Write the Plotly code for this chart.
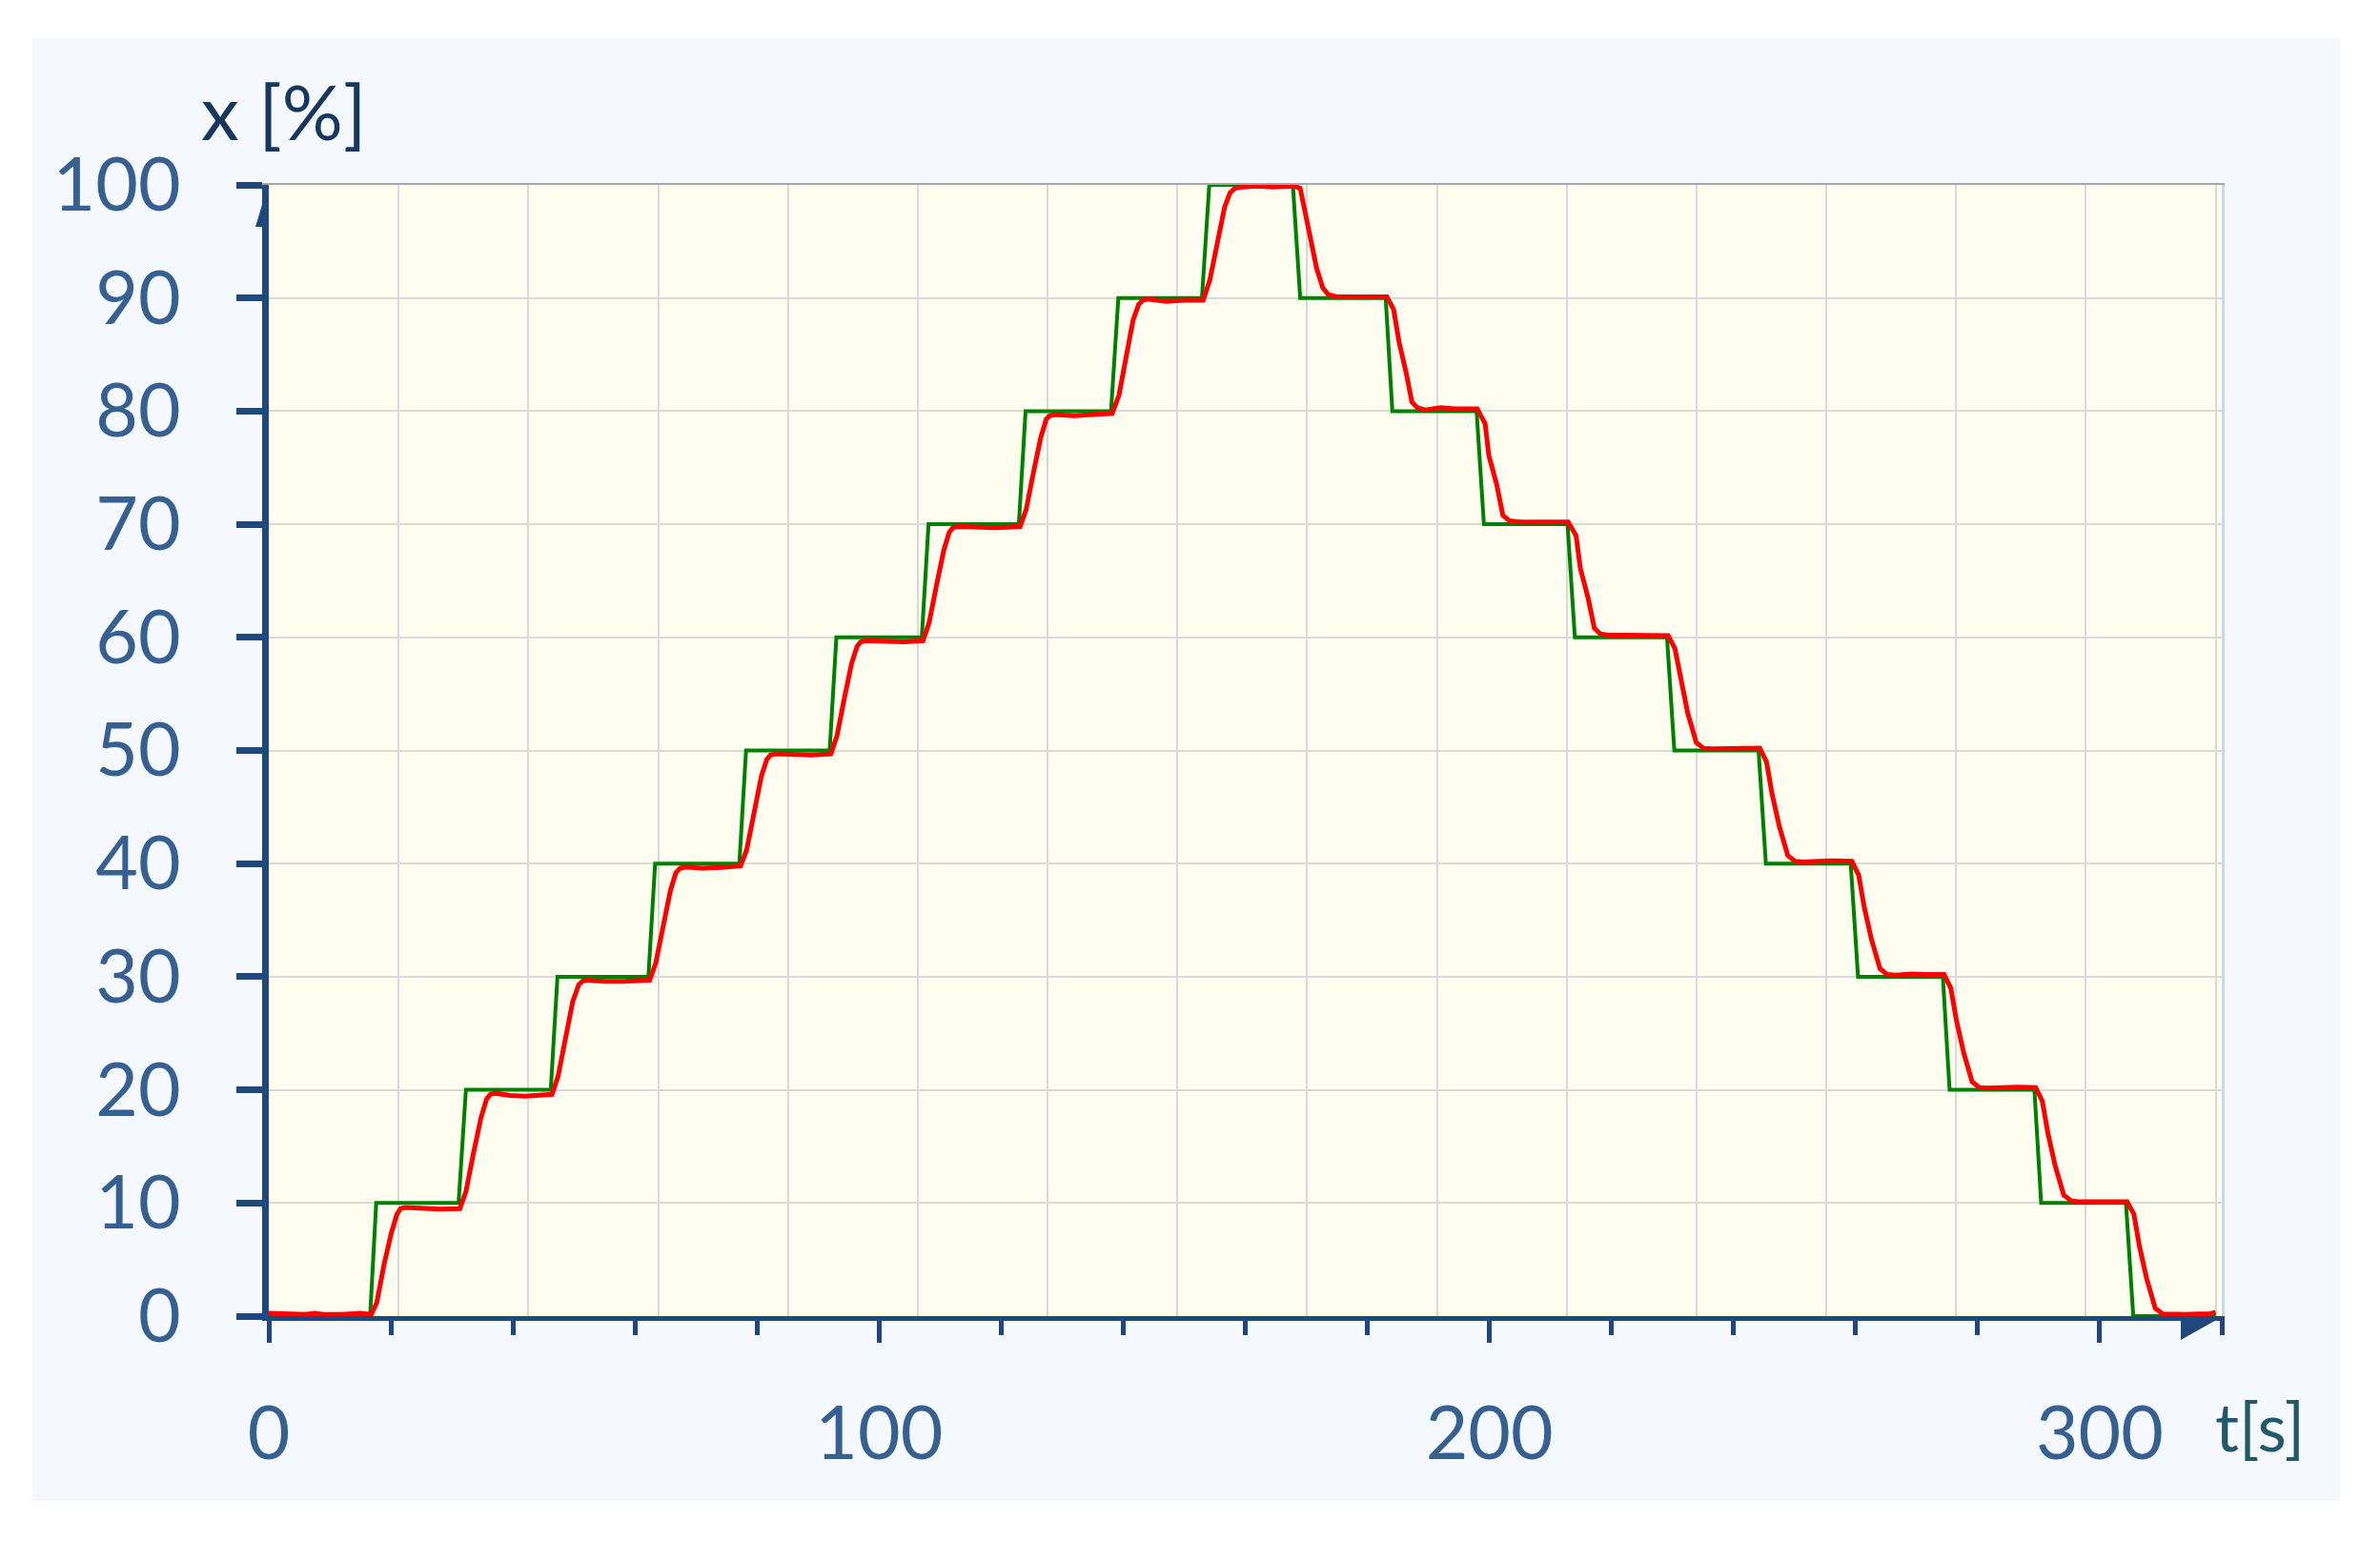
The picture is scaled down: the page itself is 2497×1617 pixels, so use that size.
import plotly.graph_objects as go

# --- data -------------------------------------------------------------------
# setpoint (green): time [s] and level [%]
setpoint_t = [0, 16.6, 17.6, 31.1, 32.3, 46.2, 47.3, 62.2, 63.3, 77.1, 78.2,
              91.9, 93.0, 107.0, 108.1, 122.9, 124.0, 138.0, 139.2, 152.9, 154.1,
              167.8, 169.0, 183.0, 184.1, 197.9, 199.1, 212.8, 214.0, 229.1, 230.3,
              244.1, 245.3, 259.2, 260.4, 274.3, 275.4, 289.3, 290.4, 304.3, 305.5,
              319.0]
setpoint_x = [0, 0, 10, 10, 20, 20, 30, 30, 40, 40, 50, 50, 60, 60, 70, 70, 80,
              80, 90, 90, 100, 100, 90, 90, 80, 80, 70, 70, 60, 60, 50, 50, 40, 40,
              30, 30, 20, 20, 10, 10, 0, 0]

# measured response (red)
response_t = [0, 2, 4, 6, 7.5, 9, 12, 14, 15, 16.8,
              17.7, 18.9, 20.1, 21.0, 21.6, 22.4, 25, 28, 31.3,
              32.3, 33.5, 34.8, 35.7, 36.3, 37.2, 39.5, 42, 44.5, 46.4,
              47.4, 48.6, 49.8, 50.8, 51.4, 52.3, 55, 58, 60.5, 62.4,
              63.4, 64.6, 65.8, 66.7, 67.4, 68.3, 71, 74, 77.3,
              78.3, 79.5, 80.7, 81.6, 82.2, 83.1, 86, 89, 92.1,
              93.1, 94.3, 95.5, 96.4, 97.0, 97.9, 101, 104, 107.2,
              108.2, 109.4, 110.6, 111.5, 112.1, 113.0, 116, 119, 123.1,
              124.1, 125.3, 126.5, 127.4, 128.0, 128.9, 132, 135, 138.2,
              139.3, 140.5, 141.6, 142.5, 143.2, 144.0, 147, 150, 153.1,
              154.2, 155.5, 156.6, 157.5, 158.3, 159.5, 162, 164.5, 168.0,
              169.0, 170.6, 171.7, 172.7, 173.6, 175, 178, 181, 183.2,
              184.3, 185.2, 186.4, 187.3, 188.2, 189.5, 192, 194.5, 198.0,
              199.3, 199.9, 201.2, 202.2, 203.3, 205, 208, 210.5, 212.9,
              214.2, 214.9, 216.2, 217.2, 218.2, 219.5, 222, 225, 229.3,
              230.4, 231.4, 232.5, 233.9, 235.1, 236.5, 239, 241.5, 244.3,
              245.4, 246.3, 247.5, 248.9, 250.1, 251.5, 254, 256, 259.4,
              260.5, 261.4, 262.6, 264.0, 265.2, 266.6, 269, 271.5, 274.5,
              275.6, 276.5, 277.7, 279.1, 280.3, 281.7, 284, 286.5, 289.5,
              290.6, 291.5, 292.7, 294.1, 295.3, 296.7, 299, 301.5, 304.5,
              305.6, 306.5, 307.7, 309.1, 310.3, 311.7, 314, 316, 318, 319]
response_x = [0.25, 0.2, 0.15, 0.15, 0.25, 0.15, 0.15, 0.2, 0.25, 0.15,
              1.2, 4.6, 7.4, 9.0, 9.5, 9.6, 9.5, 9.45, 9.5,
              11.0, 14.3, 17.6, 19.2, 19.6, 19.7, 19.5, 19.45, 19.55, 19.6,
              21.2, 24.6, 27.8, 29.3, 29.6, 29.7, 29.6, 29.6, 29.6, 29.7,
              31.2, 34.6, 37.6, 39.2, 39.6, 39.7, 39.6, 39.65, 39.8,
              41.2, 44.6, 47.7, 49.2, 49.6, 49.7, 49.6, 49.6, 49.7,
              51.3, 54.6, 57.7, 59.2, 59.6, 59.7, 59.6, 59.6, 59.7,
              61.3, 64.6, 67.7, 69.3, 69.7, 69.8, 69.7, 69.7, 69.8,
              71.3, 74.6, 77.7, 79.3, 79.6, 79.7, 79.6, 79.7, 79.8,
              81.4, 84.8, 88.0, 89.4, 89.8, 89.9, 89.7, 89.8, 89.8,
              91.6, 95.0, 98.0, 99.3, 99.7, 99.8, 99.9, 99.8, 99.9,
              99.7, 95.3, 92.6, 90.9, 90.3, 90.1, 90.1, 90.1, 90.1,
              89.0, 86.1, 83.3, 80.8, 80.3, 80.1, 80.3, 80.2, 80.2,
              78.9, 76.1, 73.5, 70.8, 70.3, 70.2, 70.2, 70.2, 70.2,
              69.0, 66.1, 63.4, 60.8, 60.3, 60.2, 60.2, 60.2, 60.15,
              59.0, 56.2, 53.3, 50.7, 50.2, 50.15, 50.2, 50.2, 50.2,
              49.0, 46.2, 43.3, 40.7, 40.2, 40.15, 40.2, 40.25, 40.2,
              39.0, 36.2, 33.3, 30.7, 30.2, 30.15, 30.25, 30.2, 30.2,
              29.0, 26.2, 23.3, 20.7, 20.2, 20.15, 20.2, 20.25, 20.2,
              19.0, 16.2, 13.3, 10.7, 10.2, 10.1, 10.1, 10.1, 10.1,
              9.0, 6.2, 3.3, 0.7, 0.2, 0.15, 0.15, 0.2, 0.2, 0.35]

x_major_ticks = [0, 100, 200, 300]
y_ticks = [0, 10, 20, 30, 40, 50, 60, 70, 80, 90, 100]

# --- styling ----------------------------------------------------------------
W, H = 2481, 1601
ML, MR, MT, MB = 274, 158, 186, 228
PW, PH = W - ML - MR, H - MT - MB

NAVY = "#1F497D"
LABEL_BLUE = "#376092"
FONT = "Lato, 'Open Sans', sans-serif"


def paper_x(px):
    return (px - ML) / PW


def paper_y(py):
    return (H - MB - py) / PH


fig = go.Figure()

fig.add_trace(go.Scatter(x=setpoint_t, y=setpoint_x, mode="lines",
                         line=dict(color="#008000", width=4),
                         hoverinfo="skip", showlegend=False))
fig.add_trace(go.Scatter(x=response_t, y=response_x, mode="lines",
                         line=dict(color="#FF0000", width=5),
                         hoverinfo="skip", showlegend=False))
# empty traces so the helper axes (grid / frame) get drawn
fig.add_trace(go.Scatter(x=[None], y=[None], xaxis="x2", yaxis="y",
                         showlegend=False, hoverinfo="skip"))
fig.add_trace(go.Scatter(x=[None], y=[None], xaxis="x", yaxis="y2",
                         showlegend=False, hoverinfo="skip"))

tick_font = dict(family=FONT, size=77, color=LABEL_BLUE)

fig.update_layout(
    width=W, height=H,
    margin=dict(l=ML, r=MR, t=MT, b=MB, pad=0),
    paper_bgcolor="#F5F9FD",
    plot_bgcolor="#FEFEF0",
    xaxis=dict(
        range=[0, 320], tickmode="array", tickvals=x_major_ticks,
        ticks="outside", ticklen=23, tickwidth=5, tickcolor=NAVY,
        minor=dict(dtick=20, tick0=0, ticks="outside", ticklen=15,
                   tickwidth=5, tickcolor=NAVY, showgrid=False),
        showline=True, linecolor=NAVY, linewidth=5,
        showgrid=False, zeroline=False,
        tickfont=tick_font, ticklabelstandoff=30,
    ),
    # helper axis: 15 equal vertical grid divisions + grey top frame
    xaxis2=dict(
        overlaying="x", side="top", range=[0, 320],
        tick0=0, dtick=319 / 15, ticks="", showticklabels=False,
        showgrid=True, gridcolor="#D9D9D9", gridwidth=2,
        showline=True, linecolor="#A6A6A6", linewidth=2,
        zeroline=False, layer="below traces",
    ),
    yaxis=dict(
        range=[0, 100], tickmode="array", tickvals=y_ticks,
        ticks="outside", ticklen=27, tickwidth=7, tickcolor=NAVY,
        showline=True, linecolor=NAVY, linewidth=7,
        showgrid=True, gridcolor="#D9D9D9", gridwidth=2, zeroline=False,
        tickfont=tick_font, ticklabelstandoff=43,
    ),
    yaxis2=dict(
        overlaying="y", side="right", range=[0, 100],
        ticks="", showticklabels=False, showgrid=False, zeroline=False,
        showline=True, linecolor="#C6D9F1", linewidth=3,
    ),
)

# axis titles
fig.add_annotation(text="x [%]", xref="paper", yref="paper",
                   x=paper_x(201), y=paper_y(108), xanchor="left", yanchor="middle",
                   showarrow=False, font=dict(family=FONT, size=80, color="#17375E"))
fig.add_annotation(text="t[s]", xref="paper", yref="paper",
                   x=paper_x(2363), y=paper_y(1488), xanchor="center", yanchor="middle",
                   showarrow=False, font=dict(family=FONT, size=70, color="#215968"))

# axis arrow heads (paper refs so they are not clipped to the plot area)
fig.add_shape(type="path", xref="paper", yref="paper", xsizemode="pixel", ysizemode="pixel",
              xanchor=1, yanchor=0, path="M -43,-5 L -43,-25 L -2,-2 Z",
              fillcolor=NAVY, line=dict(width=0))
fig.add_shape(type="path", xref="paper", yref="paper", xsizemode="pixel", ysizemode="pixel",
              xanchor=0, yanchor=1, path="M -1,-1 L -14,-44 L -1,-44 Z",
              fillcolor=NAVY, line=dict(width=0))

# white outer border around the light panel
white = dict(type="rect", xref="paper", yref="paper", fillcolor="white",
             line=dict(width=0), layer="above")
fig.add_shape(**white, x0=paper_x(-10), x1=paper_x(26), y0=paper_y(H + 10), y1=paper_y(-10))
fig.add_shape(**white, x0=paper_x(2447), x1=paper_x(W + 10), y0=paper_y(H + 10), y1=paper_y(-10))
fig.add_shape(**white, x0=paper_x(-10), x1=paper_x(W + 10), y0=paper_y(32), y1=paper_y(-10))
fig.add_shape(**white, x0=paper_x(-10), x1=paper_x(W + 10), y0=paper_y(H + 10), y1=paper_y(1567))

fig.write_html("out.html")
